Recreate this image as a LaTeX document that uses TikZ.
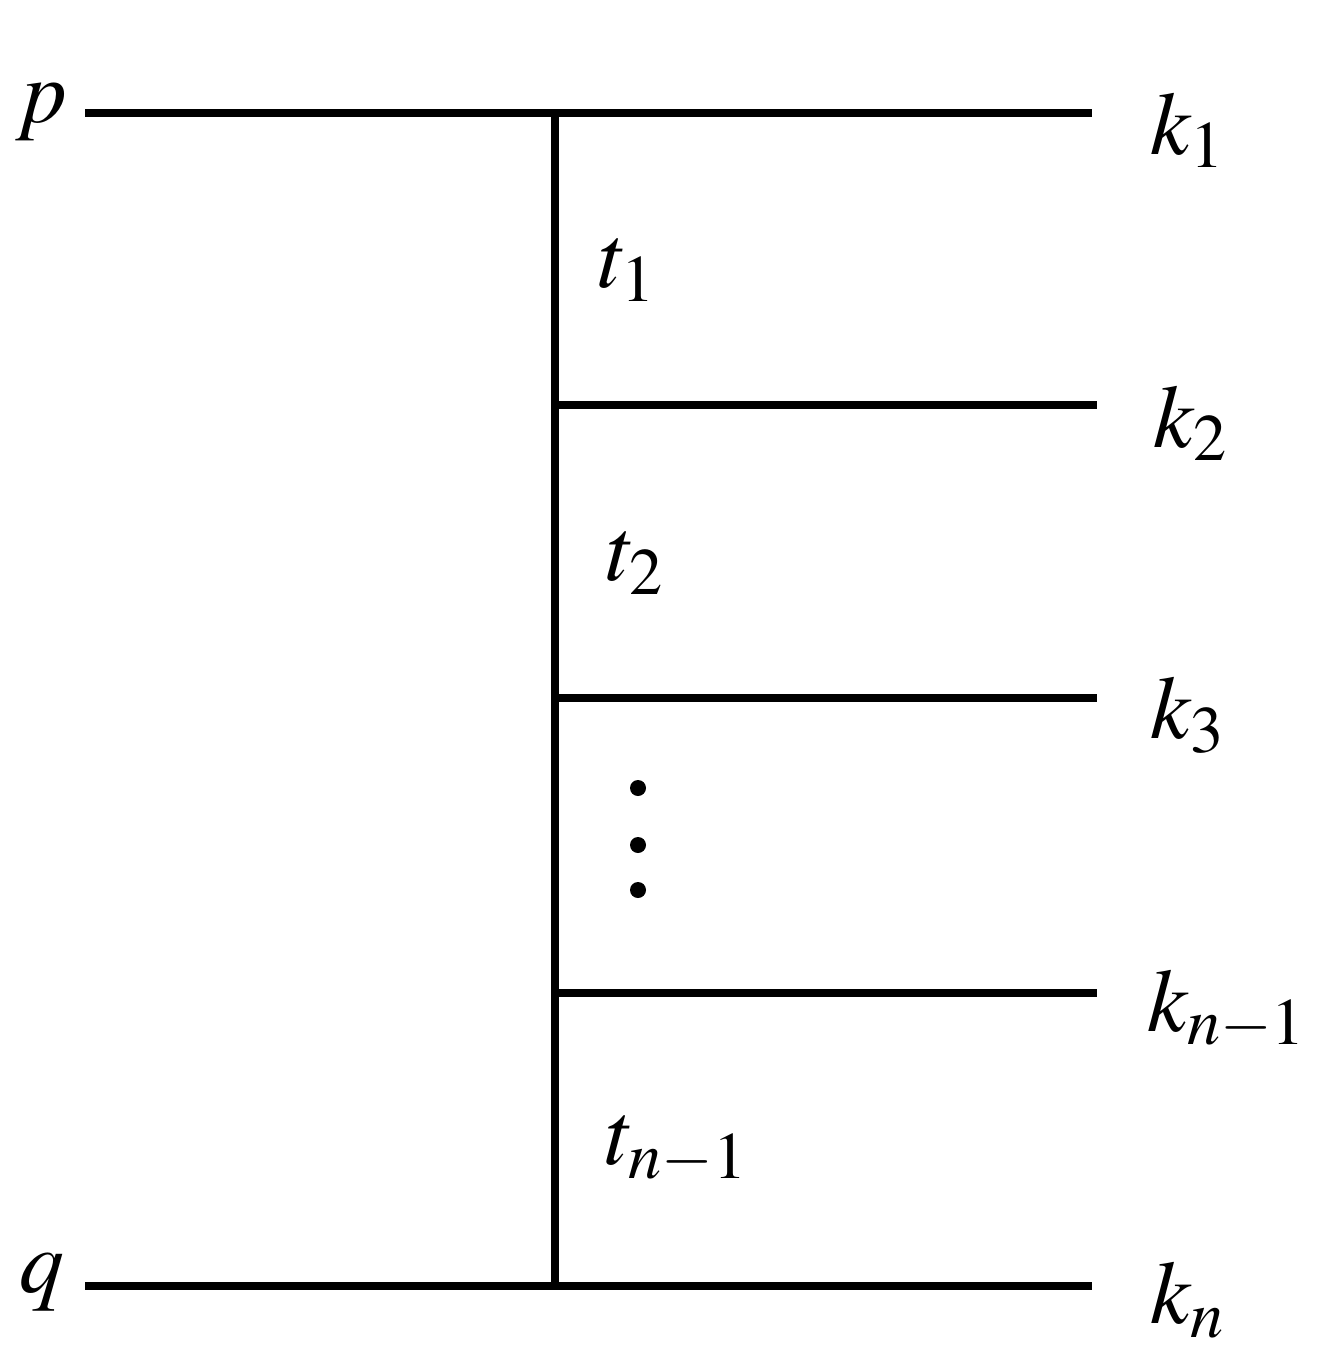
\documentclass[tikz,border=0pt]{standalone}
\usepackage{mathptmx}
\tikzset{
  leg/.style={line width=2.4pt},
  lbl/.style={font=\fontsize{25.5}{30}\selectfont}
}
\begin{document}
\begin{tikzpicture}[x=0.01cm,y=-0.01cm]
  \useasboundingbox (0,0) rectangle (1332,1366);

  \coordinate (pin) at (85,113);
  \coordinate (qin) at (85,1286);
  \coordinate (top) at (555,113);
  \coordinate (bot) at (555,1286);
  \coordinate (v2) at (555,405);
  \coordinate (v3) at (555,698);
  \coordinate (vn1) at (555,993);
  \coordinate (k1end) at (1092,113);
  \coordinate (k2end) at (1097,405);
  \coordinate (k3end) at (1097,698);
  \coordinate (kn1end) at (1097,993);
  \coordinate (knend) at (1092,1286);

  \draw[leg] (pin) -- (k1end);
  \draw[leg] (qin) -- (knend);
  \draw[leg] (top) -- (bot);
  \draw[leg] (v2) -- (k2end);
  \draw[leg] (v3) -- (k3end);
  \draw[leg] (vn1) -- (kn1end);

  \node[lbl] (p) at (42,112) {$p$};
  \node[lbl] (q) at (42,1282) {$q$};
  \node[lbl] (k1) at (1188,130) {$k_1$};
  \node[lbl] (k2) at (1191,423) {$k_2$};
  \node[lbl] (k3) at (1188,715) {$k_3$};
  \node[lbl] (kn1) at (1227,1010) {$k_{n-1}$};
  \node[lbl] (kn) at (1188,1300) {$k_n$};
  \node[lbl] (t1) at (628,270) {$t_1$};
  \node[lbl] (t2) at (636,563) {$t_2$};
  \node[lbl] (tn1) at (677,1150) {$t_{n-1}$};

  \foreach \y in {788,845,890}
    \fill (638,\y) circle (8);
\end{tikzpicture}
\end{document}
